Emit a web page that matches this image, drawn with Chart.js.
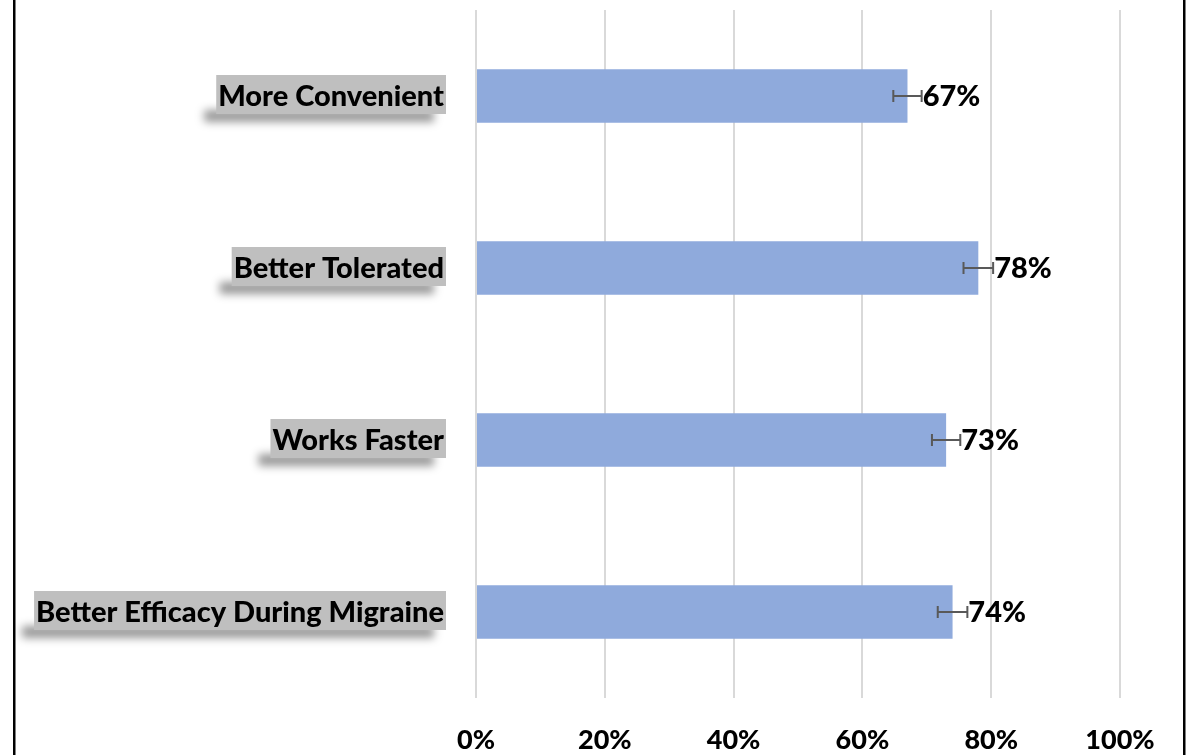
<!DOCTYPE html>
<html>
<head>
<meta charset="utf-8">
<script src="https://cdn.jsdelivr.net/npm/chart.js@4.4.0/dist/chart.umd.min.js"></script>
<style>
  body { margin: 0; background: #fff; }
  #wrap { width: 1189px; height: 755px; }
</style>
</head>
<body>
<div id="wrap"><canvas id="chart" width="1189" height="755"></canvas></div>
<script>
const categories = ['More Convenient', 'Better Tolerated', 'Works Faster', 'Better Efficacy During Migraine'];
const values = [67, 78, 73, 74];
const errors = [2.2, 2.3, 2.2, 2.3];
const xTicks = [0, 20, 40, 60, 80, 100];

const FONT = 'Lato, "Open Sans", sans-serif';

// error bars + value labels next to each bar
const barExtras = {
  id: 'barExtras',
  afterDatasetsDraw(chart) {
    const ctx = chart.ctx;
    const x = chart.scales.x;
    const meta = chart.getDatasetMeta(0);
    ctx.save();
    meta.data.forEach((bar, i) => {
      let y = bar.y;
      let x1 = x.getPixelForValue(values[i] - errors[i]);
      let x2 = x.getPixelForValue(values[i] + errors[i]);
      ctx.strokeStyle = '#595959';
      ctx.lineWidth = 2;
      ctx.beginPath();
      ctx.moveTo(x1, y); ctx.lineTo(x2, y);
      ctx.moveTo(x1, y - 6); ctx.lineTo(x1, y + 6);
      ctx.moveTo(x2, y - 6); ctx.lineTo(x2, y + 6);
      ctx.stroke();

      ctx.fillStyle = '#000';
      ctx.font = '900 29px ' + FONT;
      ctx.textAlign = 'left';
      ctx.textBaseline = 'middle';
      ctx.fillText(values[i] + '%', x2 + 1, y + 1);
    });
    ctx.restore();
  },
  afterDraw(chart) {
    const ctx = chart.ctx;
    const yScale = chart.scales.y;
    ctx.save();
    ctx.font = '900 29px ' + FONT;
    categories.forEach((c, i) => {
      let y = yScale.getPixelForValue(i);
      let right = 446;
      let w = ctx.measureText(c).width + 4;
      // soft shadow band under the label box
      ctx.save();
      ctx.filter = 'blur(4px)';
      ctx.fillStyle = 'rgba(0,0,0,0.4)';
      ctx.fillRect(right - w - 12, y + 14, w, 12);
      ctx.restore();
      ctx.fillStyle = '#bfbfbf';
      ctx.fillRect(right - w, y - 21, w, 39);
      ctx.fillStyle = '#000';
      ctx.textAlign = 'right';
      ctx.textBaseline = 'middle';
      ctx.fillText(c, right - 2, y + 1);
    });
    // frame lines left and right
    ctx.fillStyle = '#000';
    ctx.fillRect(13, 0, 2.5, 755);
    ctx.fillRect(1183, 0, 2.5, 755);
    ctx.restore();
  }
};

new Chart(document.getElementById('chart'), {
  type: 'bar',
  data: {
    labels: categories,
    datasets: [
      {
        label: 'Preference',
        data: values,
        backgroundColor: '#8faadc',
        barPercentage: 0.31,
        categoryPercentage: 1,
      },
    ],
  },
  options: {
    indexAxis: 'y',
    responsive: false,
    animation: false,
    layout: { padding: { left: 476, right: 69, top: 10, bottom: 0 } },
    plugins: { legend: { display: false }, tooltip: { enabled: false } },
    scales: {
      x: {
        min: 0,
        max: 100,
        afterBuildTicks: (axis) => {
          axis.ticks = xTicks.map((v) => ({ value: v }));
        },
        afterFit: (axis) => {
          axis.height = 57;
        },
        grid: { color: '#d9d9d9', lineWidth: 2, drawTicks: false },
        border: { display: false },
        ticks: {
          padding: 26,
          color: '#000',
          font: { family: FONT, size: 27, weight: 900 },
          callback: (v) => v + '%',
        },
      },
      y: { display: false },
    },
  },
  plugins: [barExtras],
});
</script>
</body>
</html>
